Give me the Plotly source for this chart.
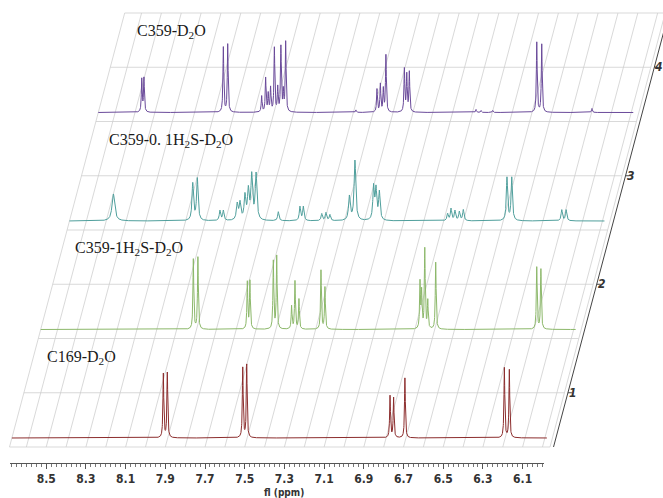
import numpy as np
import plotly.graph_objects as go

# ---------------- data ----------------
PPM_START, PPM_END = 8.685, 5.99          # spectral window of every trace
layer_names = ["C169-D<sub>2</sub>O",
               "C359-1H<sub>2</sub>S-D<sub>2</sub>O",
               "C359-0. 1H<sub>2</sub>S-D<sub>2</sub>O",
               "C359-D<sub>2</sub>O"]
layer_colors = ["#8c2d2d", "#8cb86a", "#4f9f9c", "#6a4a9a"]
baselines = [0.583, 1.583, 2.583, 3.583]   # stacking level of each spectrum
label_ppm = [8.519, 8.521, 8.496, 8.500]

# peak lists: position (ppm), height (arbitrary units), half width (ppm)
c169_ppm = [7.922, 7.902, 7.522, 7.502, 6.780, 6.762, 6.705, 6.204, 6.179]
c169_int = [64, 65, 70, 73, 42, 40, 60, 70, 68]
c169_w   = [0.0025] * 9

h2s1_ppm = [7.916, 7.893, 7.644, 7.631, 7.513, 7.496, 7.421, 7.404, 7.384,
            7.273, 7.253, 6.774, 6.766, 6.750, 6.735, 6.695, 6.186, 6.165]
h2s1_int = [70, 72, 47, 48, 68, 73, 23, 48, 30,
            59, 42, 46, 36, 80, 28, 67, 62, 60]
h2s1_w   = [0.0025] * 18

h2s01_ppm = [8.464, 8.064, 8.041, 7.927, 7.910, 7.840, 7.826, 7.801, 7.784,
             7.767, 7.745, 7.633, 7.524, 7.507, 7.414, 7.393, 7.373, 7.275,
             7.247, 7.153, 7.141, 7.124, 6.780, 6.763, 6.743, 6.721, 6.701,
             6.481, 6.457, 6.205, 6.183]
h2s01_int = [27, 37, 42, 10, 10, 16, 17, 24, 29,
             44, 46, 9, 14, 14, 7, 8, 6, 24,
             60, 33, 30, 28, 7, 12, 10, 9, 11,
             43, 43, 11, 11]
h2s01_w   = [0.008, 0.0045, 0.0045, 0.004, 0.004, 0.005, 0.005, 0.005, 0.005,
             0.005, 0.005, 0.004, 0.004, 0.004, 0.004, 0.004, 0.004, 0.005,
             0.005, 0.0045, 0.0045, 0.0045, 0.004, 0.004, 0.004, 0.004, 0.004,
             0.004, 0.004, 0.004, 0.004]

c359_ppm = [8.466, 8.455, 8.055, 8.033, 7.862, 7.842, 7.829, 7.817, 7.798,
            7.781, 7.765, 7.753, 7.741, 7.387, 7.281, 7.264, 7.249, 7.236,
            7.143, 7.131, 7.118, 6.782, 6.757, 6.698, 6.476, 6.451, 6.198]
c359_int = [33, 34, 65, 68, 16, 34, 18, 24, 64,
            24, 65, 20, 70, 2.5, 23, 28, 23, 57,
            43, 37, 40, 3, 2, 2, 70, 68, 4]
c359_w   = [0.0025] * 27

spectra = [(c169_ppm, c169_int, c169_w), (h2s1_ppm, h2s1_int, h2s1_w),
           (h2s01_ppm, h2s01_int, h2s01_w), (c359_ppm, c359_int, c359_w)]

grid_ppm = [round(8.6 - 0.1 * i, 1) for i in range(27)]   # 8.6 ... 6.0
grid_levels = [0.5 + 0.5 * i for i in range(9)]            # 0.5 ... 4.5
GRID_LEFT, GRID_RIGHT = 8.685, 5.962
y_ticks = [1, 2, 3, 4]
x_tick_vals = [8.5, 8.3, 8.1, 7.9, 7.7, 7.5, 7.3, 7.1, 6.9, 6.7, 6.5, 6.3, 6.1]
x_tick_labels = [f"{v:.1f}" for v in x_tick_vals]

# ---------------- geometry of the stacked (skewed) view ----------------
W, H = 663, 498
PX_PER_PPM = 198.5
PX_PER_UNIT = 108.5
SKEW = 28.8 / PX_PER_PPM      # ppm shift per stacking unit
X0_PX = 9.5                   # pixel of PPM_START on the front edge
Y_OFF = 501.25                # pixel row of level 0
AXIS_ROW = 463
TITLE_ROW = 492

def sx(p, v):
    return p - SKEW * (v - 0.5)

x_range = [PPM_START + X0_PX / PX_PER_PPM, PPM_START - (W - X0_PX) / PX_PER_PPM]
y_range = [(Y_OFF - H) / PX_PER_UNIT, Y_OFF / PX_PER_UNIT]

fig = go.Figure()

# grid: slanted lines and level lines
gx, gy = [], []
for p in [GRID_LEFT] + grid_ppm + [GRID_RIGHT]:
    gx += [sx(p, grid_levels[0]), sx(p, grid_levels[-1]), None]
    gy += [grid_levels[0], grid_levels[-1], None]
for v in grid_levels:
    gx += [sx(GRID_LEFT, v), sx(GRID_RIGHT, v), None]
    gy += [v, v, None]
fig.add_trace(go.Scatter(x=gx, y=gy, mode="lines", hoverinfo="skip",
                         line=dict(color="#cfcfcf", width=0.8), showlegend=False))

# right-hand stacking axis
AX_PPM = GRID_RIGHT - 3.5 / PX_PER_PPM
ax_x = [sx(AX_PPM, grid_levels[0]), sx(AX_PPM, grid_levels[-1]), None]
ax_y = [grid_levels[0], grid_levels[-1], None]
for t in y_ticks:
    ax_x += [sx(AX_PPM, t), sx(AX_PPM, t) - 4 / PX_PER_PPM, None]
    ax_y += [t, t, None]
fig.add_trace(go.Scatter(x=ax_x, y=ax_y, mode="lines", hoverinfo="skip",
                         line=dict(color="#444444", width=1), showlegend=False))

# spectra
ppm_axis = np.arange(PPM_START, PPM_END, -0.0005)
for (pp, ii, ww), base, col in zip(spectra, baselines, layer_colors):
    inten = np.zeros_like(ppm_axis)
    for p0, h, g in zip(pp, ii, ww):
        inten += h / (1.0 + ((ppm_axis - p0) / g) ** 2)
    fig.add_trace(go.Scatter(x=sx(ppm_axis, base), y=base + inten / PX_PER_UNIT,
                             mode="lines", line=dict(color=col, width=1),
                             hoverinfo="skip", showlegend=False))

# hidden trace so the front ppm axis is drawn
fig.add_trace(go.Scatter(x=[PPM_START, PPM_END], y=[None, None], xaxis="x2",
                         yaxis="y", mode="lines", showlegend=False, hoverinfo="skip"))

ann = []
for name, base, lp in zip(layer_names, baselines, label_ppm):
    ann.append(dict(x=sx(lp, base), y=base + 0.745, xref="x", yref="y",
                    text=name, showarrow=False, xanchor="left", yanchor="middle",
                    font=dict(family="Liberation Serif, DejaVu Serif, serif",
                              size=16, color="#1a1a1a")))
narrow = "Liberation Sans Narrow, DejaVu Sans Condensed, Roboto, sans-serif"
for t in y_ticks:
    ann.append(dict(x=sx(AX_PPM, t), y=t, xref="x", yref="y", text=str(t),
                    showarrow=False, xanchor="left", yanchor="middle", xshift=0,
                    borderpad=0,
                    font=dict(family=narrow, size=12, color="#333333",
                              weight="bold", style="italic")))
ann.append(dict(x=7.3, y=1 - TITLE_ROW / H, xref="x2", yref="paper", text="fl (ppm)",
                showarrow=False, xanchor="center", yanchor="middle",
                font=dict(family=narrow, size=10, color="#333333", weight="bold")))

tick_font = dict(family=narrow, size=12, color="#333333", weight="bold")

fig.update_layout(
    width=W, height=H, autosize=False,
    margin=dict(l=0, r=0, t=0, b=0, pad=0),
    paper_bgcolor="white", plot_bgcolor="rgba(0,0,0,0)",
    xaxis=dict(range=x_range, domain=[0, 1], visible=False, fixedrange=True),
    yaxis=dict(range=y_range, domain=[0, 1], visible=False, fixedrange=True),
    xaxis2=dict(range=[PPM_START, PPM_END],
                domain=[X0_PX / W, (X0_PX + (PPM_START - PPM_END) * PX_PER_PPM) / W],
                anchor="free", position=(H - AXIS_ROW) / H,
                showline=True, linecolor="#555555", linewidth=1,
                ticks="outside", ticklen=5, tickwidth=1, tickcolor="#555555",
                tickmode="array", tickvals=x_tick_vals, ticktext=x_tick_labels,
                tickfont=tick_font, showgrid=False, zeroline=False, fixedrange=True,
                minor=dict(ticks="outside", ticklen=3, tickcolor="#777777",
                           tick0=6.0, dtick=0.025, showgrid=False)),
    annotations=ann,
)

# the page's default 8 px body margin is removed so the figure fills the window
fig.write_html("out.html",
               config={"displayModeBar": False},
               post_script="document.body.style.margin='0';"
                           "document.documentElement.style.overflow='hidden';")
